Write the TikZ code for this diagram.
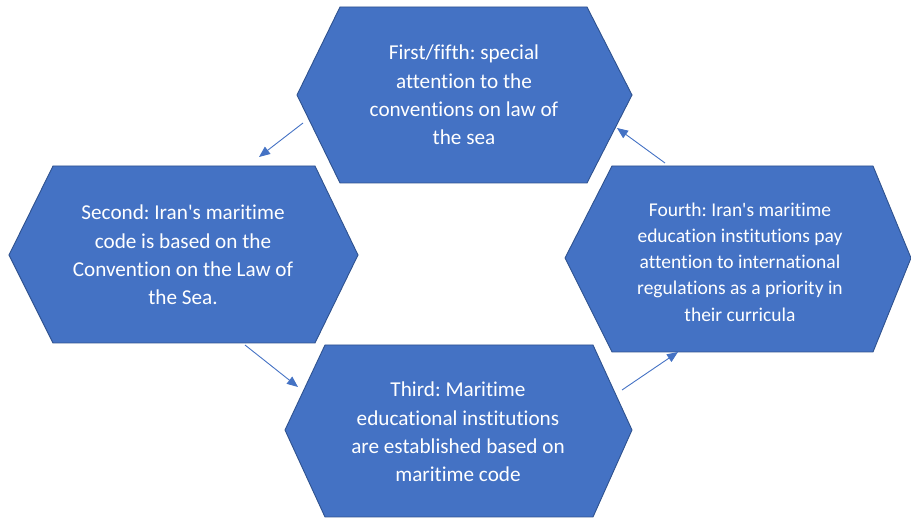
\documentclass[tikz,border=0pt]{standalone}
\usepackage{fontspec}
\setmainfont{Carlito}[Ligatures={TeXOff,CommonOff}]
\usetikzlibrary{arrows.meta}
\frenchspacing
\definecolor{hexfill}{HTML}{4472C4}
\definecolor{hexline}{HTML}{2F528F}
\tikzset{
  hexshape/.style={fill=hexfill, draw=hexline, line width=0.9pt, line join=miter},
  hextext/.style={text=white, align=center, inner sep=0pt, font=\frenchspacing\fontsize{21.2}{28.3}\selectfont},
  hextextsmall/.style={text=white, align=center, inner sep=0pt, font=\frenchspacing\fontsize{19.5}{26.2}\selectfont},
  flowarrow/.style={draw=hexfill, line width=0.9pt, -{Triangle[length=11pt,width=9pt]}}
}
\begin{document}
\begin{tikzpicture}[x=1pt,y=-1pt]
\useasboundingbox (0,0) rectangle (911,518);
% top hexagon
\draw[hexshape] (340,7) -- (587,7) -- (632,95) -- (587,183) -- (340,183) -- (297,95) -- cycle;
\node[hextext] (first) at (464,95) {First/fifth: special\\attention to the\\conventions on law of\\the sea};
% left hexagon
\draw[hexshape] (53,166) -- (315,166) -- (358,255) -- (315,343) -- (53,343) -- (9,255) -- cycle;
\node[hextext] (second) at (183,255) {Second: Iran's maritime\\code is based on the\\Convention on the Law of\\the Sea.};
% bottom hexagon
\draw[hexshape] (325,345) -- (593,345) -- (632,430) -- (593,517) -- (325,517) -- (285,430) -- cycle;
\node[hextext] (third) at (458,432) {Third: Maritime\\educational institutions\\are established based on\\maritime code};
% right hexagon
\draw[hexshape] (612,166) -- (873,166) -- (911,258) -- (873,352) -- (612,352) -- (565,258) -- cycle;
\node[hextextsmall] (fourth) at (740,262) {Fourth: Iran's maritime\\education institutions pay\\attention to international\\regulations as a priority in\\their curricula};
% arrow end points
\coordinate (a1s) at (303,123); \coordinate (a1e) at (259,157);
\coordinate (a2s) at (245,345); \coordinate (a2e) at (298,387);
\coordinate (a3s) at (622,390); \coordinate (a3e) at (678,352);
\coordinate (a4s) at (665,163); \coordinate (a4e) at (617,128);
\draw[flowarrow] (a1s) -- (a1e);
\draw[flowarrow] (a2s) -- (a2e);
\draw[flowarrow] (a3s) -- (a3e);
\draw[flowarrow] (a4s) -- (a4e);
\end{tikzpicture}
\end{document}
